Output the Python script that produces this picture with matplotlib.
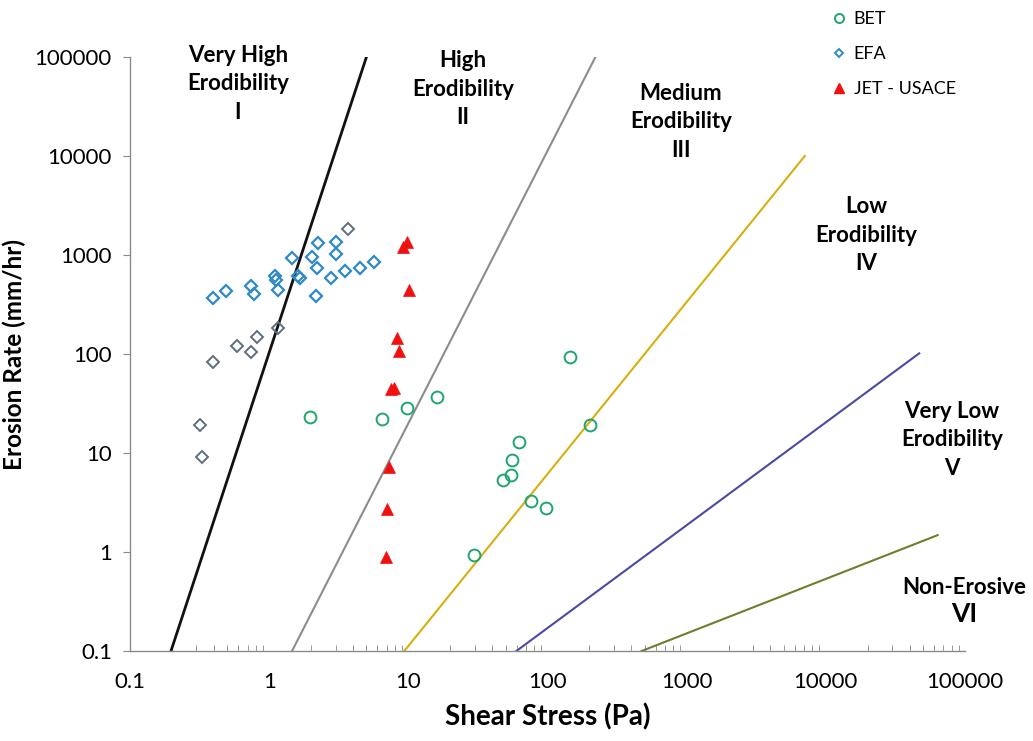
import matplotlib
matplotlib.use("Agg")
import matplotlib.pyplot as plt
from matplotlib.lines import Line2D

plt.rcParams['font.family'] = ['Lato', 'DejaVu Sans']

# ---------------- data ----------------
bet_x = [1.95, 6.45, 9.8, 16.0, 146, 201, 62, 56, 55, 48, 76, 98, 29.5]
bet_y = [22.9, 22.2, 28.8, 36.6, 92.6, 19.0, 12.8, 8.5, 5.95, 5.3, 3.3, 2.8, 0.93]

efa_x = [2.23, 3.02, 3.03, 1.47, 2.03, 2.20, 3.52, 4.46, 5.63, 2.78, 1.62, 1.66,
         1.10, 1.12, 1.16, 0.743, 0.78, 0.489, 0.397, 2.18]
efa_y = [1330, 1360, 1020, 926, 961, 745, 689, 734, 855, 582, 614, 580,
         614, 559, 443, 486, 401, 433, 365, 388]

efa_dark_x = [3.68, 1.155, 0.817, 0.587, 0.738, 0.397, 0.316, 0.328]
efa_dark_y = [1820, 182, 150, 121, 104, 83.6, 19.2, 9.05]

jet_x = [9.1, 9.8, 10.05, 8.27, 8.51, 7.48, 7.86, 7.22, 7.03, 6.95]
jet_y = [1200, 1360, 443, 145, 107, 44.3, 45.3, 7.27, 2.72, 0.90]

# category boundary lines (shear stress, erosion rate endpoints)
boundary_x = [[0.197, 5.0], [1.46, 221], [9.36, 7060], [59.8, 46900], [475, 63600]]
boundary_y = [[0.1, 100000], [0.1, 100000], [0.1, 10000], [0.1, 101.6], [0.1, 1.48]]
boundary_colors = ['#111111', '#8c8c8c', '#d6b00e', '#4a4aa2', '#6e7d2e']

zone_labels = ["Very High\nErodibility\nI", "High\nErodibility\nII",
               "Medium\nErodibility\nIII", "Low\nErodibility\nIV",
               "Very Low\nErodibility\nV"]

x_ticks = [0.1, 1, 10, 100, 1000, 10000, 100000]
y_ticks = [0.1, 1, 10, 100, 1000, 10000, 100000]
tick_labels = ['0.1', '1', '10', '100', '1000', '10000', '100000']

# ---------------- figure ----------------
W, H = 1033, 741
fig = plt.figure(figsize=(W / 100, H / 100), dpi=100)
L, R, T, B = 130, 965, 57, 651
ax = fig.add_axes([L / W, 1 - B / H, (R - L) / W, (B - T) / H])
ax.set_xscale('log')
ax.set_yscale('log')
ax.set_xlim(0.1, 100000)
ax.set_ylim(0.1, 100000)

for xs, ys, c in zip(boundary_x, boundary_y, boundary_colors):
    lw = 2.0 if c == '#111111' else 1.5
    ax.plot(xs, ys, color=c, lw=lw, zorder=2)

bet_c = '#1fa56e'
efa_c = '#2f8ac4'
efa_dark = '#5d6f7c'
jet_c = '#f01010'

ax.plot(bet_x, bet_y, 'o', ms=8.5, mfc='none', mec=bet_c, mew=1.4, zorder=3)
ax.plot(efa_x, efa_y, 'D', ms=6.3, mfc='none', mec=efa_c, mew=1.6, zorder=3)
ax.plot(efa_dark_x, efa_dark_y, 'D', ms=6.3, mfc='none', mec=efa_dark, mew=1.4, zorder=3)
ax.plot(jet_x, jet_y, '^', ms=8.5, mfc=jet_c, mec=jet_c, mew=0.5, zorder=4)

# spines and ticks
for s in ['top', 'right']:
    ax.spines[s].set_visible(False)
for s in ['left', 'bottom']:
    ax.spines[s].set_color('#8a8a8a')
    ax.spines[s].set_linewidth(1.0)

ax.set_xticks(x_ticks)
ax.set_xticklabels(tick_labels)
ax.set_yticks(y_ticks)
ax.set_yticklabels(tick_labels)
ax.tick_params(axis='x', which='major', length=0, pad=15, labelsize=16)
ax.tick_params(axis='x', which='minor', direction='in', length=4, color='#8a8a8a')
ax.tick_params(axis='y', which='major', direction='out', length=5, color='#8a8a8a',
               pad=8, labelsize=16)
ax.tick_params(axis='y', which='minor', length=0)

ax.set_xlabel('Shear Stress (Pa)', fontsize=20, fontweight='bold', labelpad=8)
ax.set_ylabel('Erosion Rate (mm/hr)', fontsize=17.5, fontweight='bold')
ax.yaxis.set_label_coords((26 - L) / (R - L), 0.5)

# zone labels (axes fraction positions)
zone_pos = [(238, 84), (463, 89), (681, 122), (866, 235), (952, 440)]
for txt, (px, py) in zip(zone_labels, zone_pos):
    ax.text((px - L) / (R - L), (B - py) / (B - T), txt, transform=ax.transAxes,
            ha='center', va='center', fontsize=16, fontweight='bold',
            linespacing=1.45, clip_on=False)
ax.text((964 - L) / (R - L), (B - 587) / (B - T), 'Non-Erosive', transform=ax.transAxes,
        ha='center', va='center', fontsize=16, fontweight='bold', clip_on=False)
ax.text((964 - L) / (R - L), (B - 614) / (B - T), 'VI', transform=ax.transAxes,
        ha='center', va='center', fontsize=19, fontweight='bold', clip_on=False)

# legend
handles = [
    Line2D([], [], ls='none', marker='o', ms=6.5, mfc='none', mec=bet_c, mew=1.4),
    Line2D([], [], ls='none', marker='D', ms=4.5, mfc='none', mec=efa_c, mew=1.4),
    Line2D([], [], ls='none', marker='^', ms=6.5, mfc=jet_c, mec=jet_c),
]
fig.legend(handles, ['BET', 'EFA', 'JET - USACE'], loc='upper left',
           bbox_to_anchor=(812 / W, 1 + 5 / H), frameon=False, fontsize=13,
           labelspacing=1.05, handletextpad=0.2, handlelength=1.2)

fig.savefig('out.png', dpi=100, facecolor='white')
